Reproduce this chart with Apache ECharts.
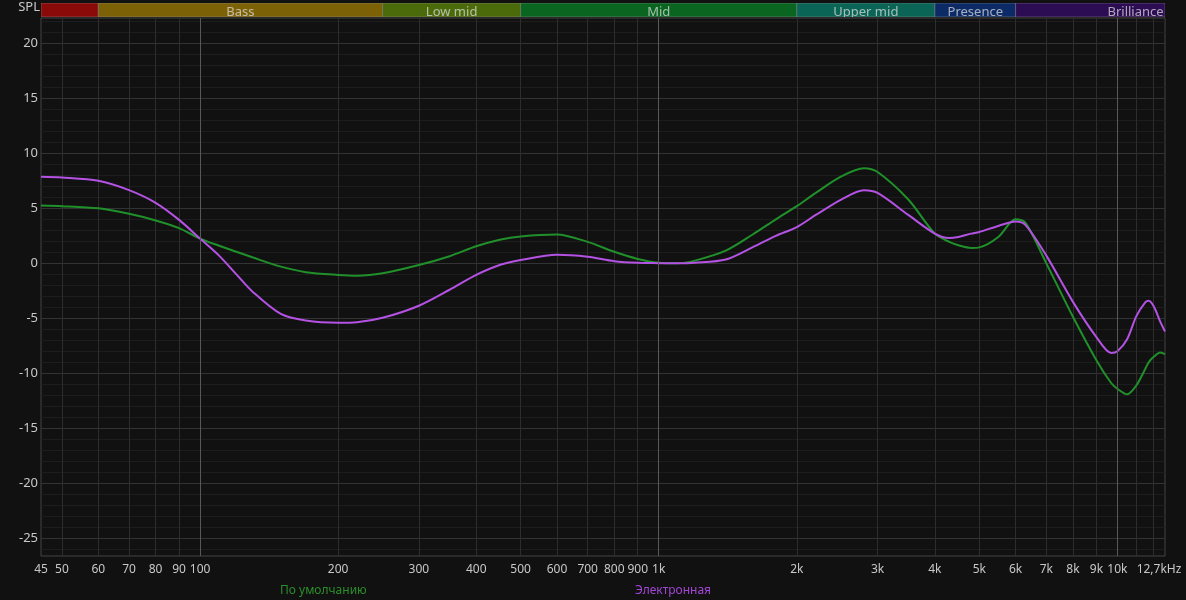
<!DOCTYPE html>
<html><head><meta charset="utf-8">
<script src="https://cdn.jsdelivr.net/npm/echarts@6/dist/echarts.min.js"></script>
<style>html,body{margin:0;padding:0;background:#111111;}#c{width:1186px;height:600px;}</style>
</head><body><div id="c"></div>
<script>
const freqs = [45,50,60,70,80,90,100,110,120,130,150,170,200,220,250,300,350,400,450,500,600,700,800,900,1000,1100,1200,1400,1600,1800,2000,2200,2500,2800,3000,3500,4000,4300,4500,4800,5000,5500,6000,6300,7000,8000,9000,9700,10000,10500,11000,11500,11700,12000,12400,12700];
const defaultDb = [5.25,5.2,5.0,4.5,3.9,3.2,2.25,1.6,1.05,0.55,-0.3,-0.8,-1.05,-1.12,-0.9,-0.15,0.65,1.55,2.15,2.45,2.62,1.95,1.05,0.4,0.05,0.0,0.25,1.15,2.6,4.0,5.2,6.4,7.9,8.65,8.3,5.8,2.7,1.95,1.65,1.4,1.45,2.4,4.0,3.7,0.0,-4.85,-8.8,-10.9,-11.4,-11.9,-11.1,-9.6,-9.0,-8.5,-8.1,-8.25];
const electroDb = [7.87,7.8,7.5,6.65,5.5,3.95,2.25,0.7,-1.0,-2.55,-4.6,-5.2,-5.4,-5.35,-4.95,-3.85,-2.4,-1.05,-0.15,0.3,0.78,0.6,0.2,0.05,0.02,0.0,0.05,0.35,1.45,2.5,3.3,4.4,5.8,6.65,6.4,4.4,2.7,2.3,2.4,2.7,2.85,3.4,3.8,3.5,0.7,-3.5,-6.7,-8.15,-8.0,-6.9,-4.8,-3.55,-3.4,-3.9,-5.3,-6.2];
const seriesNames = ['По умолчанию','Электронная'];
const xLabelValues = [45,50,60,70,80,90,100,200,300,400,500,600,700,800,900,1000,2000,3000,4000,5000,6000,7000,8000,9000,10000,12700];
const xLabelTexts = ['45','50','60','70','80','90','100','200','300','400','500','600','700','800','900','1k','2k','3k','4k','5k','6k','7k','8k','9k','10k','12,7kHz'];
const xGridValues = [50,60,70,80,90,100,200,300,400,500,600,700,800,900,1000,2000,3000,4000,5000,6000,7000,8000,9000,10000,11000,12000];
const xDecades = [100,1000,10000];
const yLabelValues = [-25,-20,-15,-10,-5,0,5,10,15,20];
const yGridValues = [-26,-25,-24,-23,-22,-21,-20,-19,-18,-17,-16,-15,-14,-13,-12,-11,-10,-9,-8,-7,-6,-5,-4,-3,-2,-1,0,1,2,3,4,5,6,7,8,9,10,11,12,13,14,15,16,17,18,19,20,21,22];
const bandNames = ['Sub-bass','Bass','Low mid','Mid','Upper mid','Presence','Brilliance'];
const bandStart = [20,60,250,500,2000,4000,6000];
const bandEnd = [60,250,500,2000,4000,6000,20000];
const bandColors = ['#8a0909','#7c6106','#4b6b0b','#0a6520','#0b6556','#0c2b66','#2c0c52'];

const FONT = '"Noto Sans", "Open Sans", sans-serif';
const GREEN = '#20902a', PURPLE = '#b452e4';
const chart = echarts.init(document.getElementById('c'), null, {renderer:'canvas'});
const xMin = 45, xMax = 12700;

const bandData = bandNames.map((n,i)=>[bandStart[i], bandEnd[i], i]);

chart.setOption({
  backgroundColor:'#111111',
  animation:false,
  textStyle:{fontFamily:FONT},
  graphic:[{type:'text', right:1146, top:1, style:{text:'SPL', fill:'#c8c8c8', font:'13px '+FONT}}],
  legend:[
    {data:[{name:seriesNames[0], textStyle:{color:'#2b8f2b'}}], left:275, top:585, padding:0, itemWidth:0, itemHeight:0, icon:'rect', textStyle:{fontSize:12, fontFamily:FONT}},
    {data:[{name:seriesNames[1], textStyle:{color:'#a346d6'}}], left:630, top:585, padding:0, itemWidth:0, itemHeight:0, icon:'rect', textStyle:{fontSize:12, fontFamily:FONT}}
  ],
  grid:[
    {left:41, right:21, top:18, height:538, show:true, borderColor:'#454545', borderWidth:1, backgroundColor:'transparent'},
    {left:41, right:21, top:3, height:14, show:false}
  ],
  xAxis:[
    {type:'log', logBase:10, min:xMin, max:xMax, gridIndex:0,
     axisLine:{show:false}, 
     axisTick:{show:false, customValues:xGridValues},
     axisLabel:{customValues:xLabelValues, color:'#c8c8c8', fontSize:12, margin:8, fontFamily:FONT,
       formatter:function(v){const i=xLabelValues.indexOf(Math.round(v)); const t = i>=0?xLabelTexts[i]:''; return Math.round(v)===12700?'{last|'+t+'}':t;},
       rich:{last:{padding:[0,12,0,0], color:'#c8c8c8', fontSize:12, fontFamily:FONT}}},
     splitLine:{show:true, lineStyle:{color:'#2d2d2d', width:1}}},
    {type:'log', logBase:10, min:xMin, max:xMax, gridIndex:1, show:false}
  ],
  yAxis:[
    {type:'value', min:-26.6, max:22.3, gridIndex:0,
     axisLine:{show:false},
     axisTick:{show:false, customValues:yGridValues},
     axisLabel:{customValues:yLabelValues, color:'#c8c8c8', fontSize:13, margin:3, fontFamily:FONT},
     splitLine:{show:true, lineStyle:{color:['#1d1d1d','#333333','#1d1d1d','#1d1d1d','#1d1d1d'], width:1}}},
    {type:'value', min:0, max:1, gridIndex:1, show:false}
  ],
  series:[
    {type:'line', name:'_decades', xAxisIndex:0, yAxisIndex:0, data:[], silent:true, z:1,
     markLine:{silent:true, symbol:'none', label:{show:false}, lineStyle:{color:'#585858', type:'solid', width:1},
       data: xDecades.map(v=>({xAxis:v}))}},
    {type:'custom', xAxisIndex:1, yAxisIndex:1, silent:true, clip:true,
     encode:{x:[0,1]},
     data:bandData,
     renderItem:function(params, api){
       const s = api.value(0), e = api.value(1), idx = api.value(2);
       const p0 = api.coord([s,1]), p1 = api.coord([e,0]);
       const cs = params.coordSys;
       const rect = echarts.graphic.clipRectByRect({x:p0[0], y:p0[1], width:p1[0]-p0[0], height:p1[1]-p0[1]},
         {x:cs.x, y:cs.y, width:cs.width, height:cs.height});
       if(!rect) return null;
       const children = [{type:'rect', shape:rect, style:{fill:bandColors[idx], stroke:'rgba(150,150,150,0.45)', lineWidth:1}}];
       const c = Math.sqrt(s*e);
       if (c >= xMin && c <= xMax) {
         const pc = api.coord([c,0.5]);
         children.push({type:'text', x:pc[0], y:pc[1]+2, style:{text:bandNames[idx], fill:'rgba(225,225,225,0.72)', font:'13px '+FONT, align:'center', verticalAlign:'middle'}});
       }
       return {type:'group', children:children};
     }},
    {type:'line', name:seriesNames[0], xAxisIndex:0, yAxisIndex:0, smooth:0.3, showSymbol:false, z:3,
     lineStyle:{color:GREEN, width:2}, itemStyle:{color:GREEN},
     data: freqs.map((f,i)=>[f, defaultDb[i]])},
    {type:'line', name:seriesNames[1], xAxisIndex:0, yAxisIndex:0, smooth:0.3, showSymbol:false, z:4,
     lineStyle:{color:PURPLE, width:2}, itemStyle:{color:PURPLE},
     data: freqs.map((f,i)=>[f, electroDb[i]])}
  ]
});
</script></body></html>
